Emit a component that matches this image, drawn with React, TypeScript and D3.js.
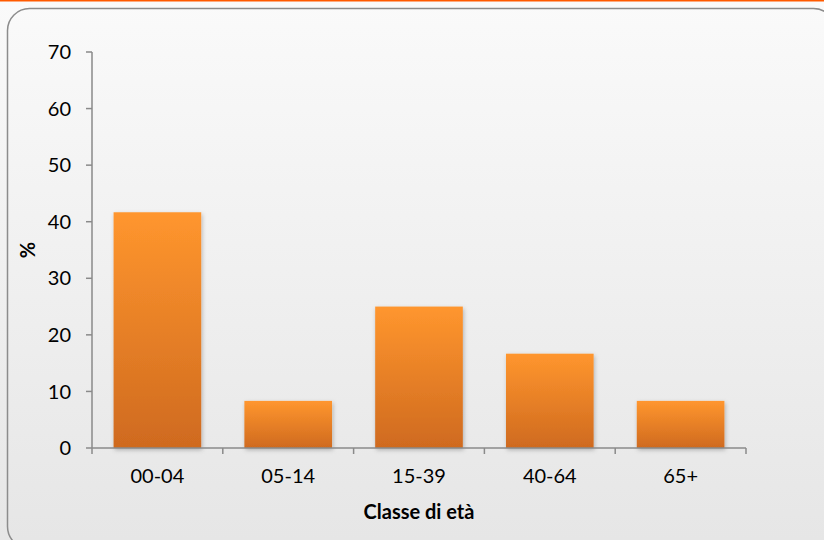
import React from "react";
import * as d3 from "d3";

const categories = ["00-04", "05-14", "15-39", "40-64", "65+"];
const values = [41.67, 8.33, 25, 16.67, 8.33];
const yTicks = [0, 10, 20, 30, 40, 50, 60, 70];
const xTitle = "Classe di età";
const yTitle = "%";

const W = 824;
const H = 540;
const FONT = "Lato, 'Open Sans', sans-serif";

export default function App() {
  const x = d3.scaleBand<string>().domain(categories).range([92, 746]).paddingInner(0.33).paddingOuter(0.165);
  const y = d3.scaleLinear().domain([0, 70]).range([448, 52]);
  const step = x.step();
  return (
    <svg width={W} height={H} style={{ position: "absolute", left: 0, top: 0 }}>
      <defs>
        <linearGradient id="bg" x1="0" y1="0" x2="0" y2="1">
          <stop offset="0" stopColor="#fafafa" />
          <stop offset="1" stopColor="#e6e6e6" />
        </linearGradient>
        <linearGradient id="bar" x1="0" y1="0" x2="0" y2="1">
          <stop offset="0" stopColor="#ff962e" />
          <stop offset="1" stopColor="#cf6a1f" />
        </linearGradient>
        <filter id="sh" x="-20%" y="-20%" width="140%" height="140%">
          <feDropShadow dx="1" dy="2" stdDeviation="2" floodColor="#000" floodOpacity="0.25" />
        </filter>
      </defs>
      <rect x={0} y={0} width={W} height={H} fill="url(#bg)" />
      <rect x={0} y={0} width={W} height={1.5} fill="#ff5a00" />
      <rect x={7.5} y={8.5} width={828} height={540} rx={22} ry={22} fill="none" stroke="#8c8c8c" strokeWidth={1.5} />
      {categories.map((c, i) => (
        <rect
          key={c}
          x={x(c)}
          y={y(values[i])}
          width={x.bandwidth()}
          height={y(0) - y(values[i])}
          fill="url(#bar)"
          filter="url(#sh)"
        />
      ))}
      <line x1={92} x2={92} y1={y(70)} y2={y(0)} stroke="#8a8a8a" strokeWidth={1.5} />
      {yTicks.map((t) => (
        <g key={t}>
          <line x1={86} x2={92} y1={y(t)} y2={y(t)} stroke="#8a8a8a" strokeWidth={1.5} />
          <text x={71} y={y(t)} dy="0.36em" textAnchor="end" fontFamily={FONT} fontSize={20} fill="#000">
            {t}
          </text>
        </g>
      ))}
      <line x1={92} x2={746} y1={y(0)} y2={y(0)} stroke="#8a8a8a" strokeWidth={1.5} />
      {d3.range(categories.length + 1).map((i) => (
        <line key={i} x1={92 + i * step} x2={92 + i * step} y1={y(0)} y2={y(0) + 6} stroke="#8a8a8a" strokeWidth={1.5} />
      ))}
      {categories.map((c) => (
        <text key={c} x={(x(c) as number) + x.bandwidth() / 2} y={483} textAnchor="middle" fontFamily={FONT} fontSize={20} fill="#000">
          {c}
        </text>
      ))}
      <text x={419} y={519} textAnchor="middle" fontFamily={FONT} fontSize={20} fontWeight="bold" fill="#000">
        {xTitle}
      </text>
      <text transform="translate(35,250) rotate(-90)" textAnchor="middle" fontFamily={FONT} fontSize={20} fontWeight="bold" fill="#000">
        {yTitle}
      </text>
    </svg>
  );
}
